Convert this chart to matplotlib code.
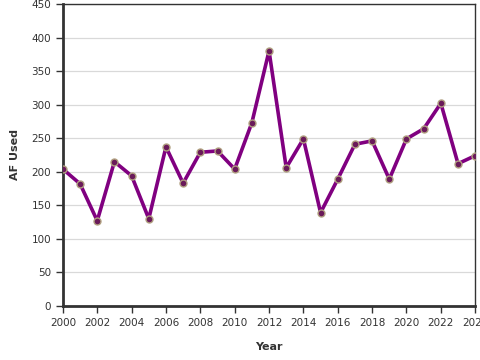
import numpy as np
import matplotlib
matplotlib.use('Agg')
import matplotlib.pyplot as plt

years = [2000, 2001, 2002, 2003, 2004, 2005, 2006, 2007, 2008, 2009, 2010, 2011, 2012,
         2013, 2014, 2015, 2016, 2017, 2018, 2019, 2020, 2021, 2022, 2023, 2024]
af_used = [204, 182, 127, 215, 194, 130, 237, 183, 229, 231, 204, 273, 380,
           206, 249, 139, 189, 241, 246, 189, 249, 264, 302, 212, 224]
x_ticks = list(range(2000, 2025, 2))
y_ticks = list(range(0, 451, 50))

plt.rcParams['font.family'] = ['DejaVu Sans']
fig = plt.figure(figsize=(4.8, 3.6), dpi=100)
ax = fig.add_axes([0.131, 0.15, 0.859, 0.839])

ax.plot(years, af_used, color='#800080', linewidth=2.6, marker='o', markersize=5,
        markerfacecolor='#6a1a5a', markeredgecolor='#b0a080', markeredgewidth=1.0, zorder=3)

ax.set_xlim(2000, 2024)
ax.set_ylim(0, 450)
ax.set_xticks(x_ticks)
ax.set_yticks(y_ticks)
ax.grid(axis='y', color='#d9d9d9', linewidth=0.9)
ax.set_axisbelow(True)

for side in ['left', 'bottom']:
    ax.spines[side].set_linewidth(2)
    ax.spines[side].set_color('#333333')
for side in ['top', 'right']:
    ax.spines[side].set_linewidth(1)
    ax.spines[side].set_color('#333333')

ax.tick_params(axis='both', labelsize=7.5, colors='#333333', length=5, width=1)
ax.set_xlabel('Year', fontsize=8, fontweight='bold', color='#333333', labelpad=10)
ax.set_ylabel('AF Used', fontsize=8, fontweight='bold', color='#333333', labelpad=8)

fig.savefig('out.png', dpi=100)
